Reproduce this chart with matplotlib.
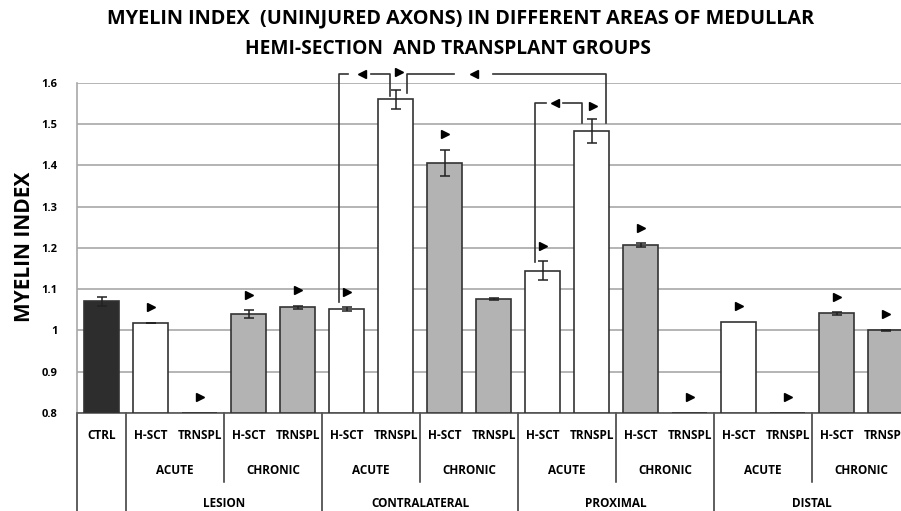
import numpy as np
import matplotlib
matplotlib.use('Agg')
import matplotlib.pyplot as plt
import matplotlib.transforms as mtransforms

plt.rcParams['font.family'] = ['Open Sans', 'DejaVu Sans']
plt.rcParams['font.weight'] = 'bold'

# Myelin index per group (mean and error)
groups = ['CTRL',
          'H-SCT', 'TRNSPL', 'H-SCT', 'TRNSPL',
          'H-SCT', 'TRNSPL', 'H-SCT', 'TRNSPL',
          'H-SCT', 'TRNSPL', 'H-SCT', 'TRNSPL',
          'H-SCT', 'TRNSPL', 'H-SCT', 'TRNSPL']
phases = ['ACUTE', 'CHRONIC'] * 4
areas = ['LESION', 'CONTRALATERAL', 'PROXIMAL', 'DISTAL']
values = [1.071,
          1.018, 0.800, 1.039, 1.056,
          1.051, 1.560, 1.406, 1.076,
          1.145, 1.482, 1.206, 0.800,
          1.021, 0.800, 1.041, 1.000]
errors = [0.011,
          0.001, 0.0, 0.010, 0.004,
          0.005, 0.023, 0.032, 0.002,
          0.022, 0.029, 0.005, 0.0,
          0.0, 0.0, 0.003, 0.001]
# fill: 0 = control, 1 = acute, 2 = chronic
kind = [0, 1, 1, 2, 2, 1, 1, 2, 2, 1, 1, 2, 2, 1, 1, 2, 2]
# bars with a significance arrow above them
marked = [1, 2, 3, 4, 5, 7, 9, 11, 12, 13, 14, 15, 16]

fills = {0: '#2d2d2d', 1: '#ffffff', 2: '#b3b3b3'}
edge = '#333333'

W, H = 901, 511
fig = plt.figure(figsize=(W / 100, H / 100), dpi=100)
ax = fig.add_axes([77 / W, 98 / H, 833 / W, 330.3 / H])

x = np.arange(len(values))
base = 0.8
ax.bar(x, np.array(values) - base, bottom=base, width=0.72,
       color=[fills[k] for k in kind], edgecolor=edge, linewidth=1.2, zorder=3)
has_err = np.array(errors) > 0
ax.errorbar(x[has_err], np.array(values)[has_err], yerr=np.array(errors)[has_err],
            fmt='none', ecolor='#222222', elinewidth=1.1, capsize=3.5, capthick=1.1, zorder=4)

mk = dict(color='black', markersize=6, clip_on=False, zorder=6)
for i in marked:
    ax.plot(i, values[i] + errors[i] + 0.038, marker='>', **mk)

ax.set_xlim(-0.5, len(values) - 0.5)
ax.set_ylim(0.8, 1.6)
ax.set_yticks(np.arange(0.8, 1.61, 0.1))
ax.set_yticklabels(['0.8', '0.9', '1', '1.1', '1.2', '1.3', '1.4', '1.5', '1.6'])
ax.tick_params(axis='y', length=0, pad=14, labelsize=8)
ax.set_xticks([])
ax.grid(axis='y', color='#a8a8a8', linewidth=1.2, zorder=0)
for s in ['top', 'right']:
    ax.spines[s].set_visible(False)
ax.spines['left'].set_color('#a8a8a8')
ax.spines['left'].set_linewidth(1.2)
ax.spines['bottom'].set_color('#555555')
ax.spines['bottom'].set_linewidth(1.2)
fig.text(25 / W, 1 - 247 / H, 'MYELIN INDEX', rotation=90, ha='center', va='center',
         fontsize=15, fontweight='bold')

# significance brackets
line_kw = dict(color='#333333', linewidth=1.2, clip_on=False, zorder=5)


def bracket(x0, y0, xg0, xm, xg1, x1, y1, top):
    ax.plot([x0, x0, xg0], [y0, top, top], **line_kw)
    ax.plot([xg1, x1, x1], [top, top, y1], **line_kw)
    ax.plot(xm, top, marker='<', **mk)


bracket(4.85, 1.068, 5.03, 5.31, 5.51, 5.89, 1.568, 1.62)
ax.plot(6.08, 1.625, marker='>', **mk)
bracket(6.23, 1.574, 7.19, 7.60, 7.98, 10.29, 1.502, 1.62)
bracket(8.85, 1.165, 9.07, 9.255, 9.42, 9.80, 1.502, 1.552)
ax.plot(10.04, 1.544, marker='>', **mk)

# category table under the axis
trans = mtransforms.blended_transform_factory(ax.transData, ax.transAxes)
sep_kw = dict(color='#333333', linewidth=1.1, clip_on=False, transform=trans)
for xs in [-0.5, 0.5, 4.5, 8.5, 12.5, 16.5]:
    ax.plot([xs, xs], [0, -0.3], **sep_kw)
for xs in [2.5, 6.5, 10.5, 14.5]:
    ax.plot([xs, xs], [0, -0.208], **sep_kw)

lab_kw = dict(transform=trans, ha='center', va='center', fontsize=8.5,
              fontweight='bold', clip_on=False)
for i, g in enumerate(groups):
    ax.text(i, -0.068, g, **lab_kw)
for j, p in enumerate(phases):
    ax.text(1.5 + 2 * j, -0.173, p, **lab_kw)
for j, a in enumerate(areas):
    ax.text(2.5 + 4 * j, -0.273, a, **lab_kw)

fig.text(461 / W, 1 - 18.5 / H, 'MYELIN INDEX  (UNINJURED AXONS) IN DIFFERENT AREAS OF MEDULLAR',
         ha='center', va='center', fontsize=14.3, fontweight='bold')
fig.text(448 / W, 1 - 49 / H, 'HEMI-SECTION  AND TRANSPLANT GROUPS',
         ha='center', va='center', fontsize=13.8, fontweight='bold')

fig.savefig('out.png', dpi=100)
